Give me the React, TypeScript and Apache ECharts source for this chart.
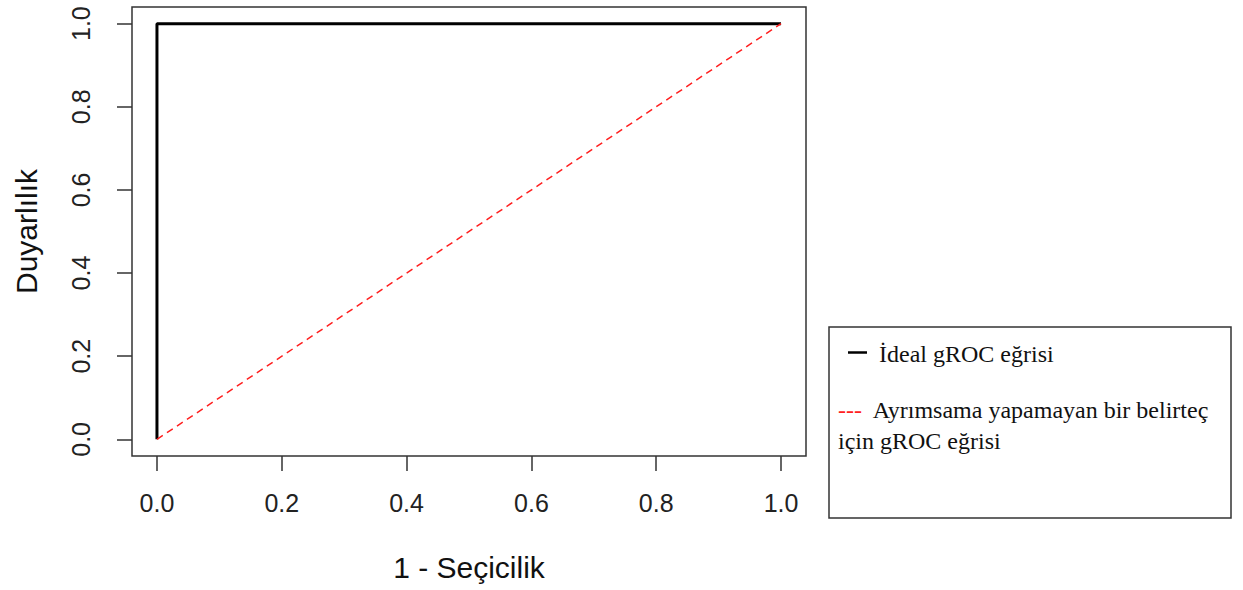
import React, { useEffect, useRef } from "react";
import * as echarts from "echarts";

const tickValues = [0, 0.2, 0.4, 0.6, 0.8, 1.0];
const idealCurve: [number, number][] = [
  [0, 0],
  [0, 1],
  [1, 1],
];
const chanceCurve: [number, number][] = [
  [0, 0],
  [1, 1],
];
const xTitle = "1 - Seçicilik";
const yTitle = "Duyarlılık";
const legendIdeal = "İdeal gROC eğrisi";
const legendChance1 = "Ayrımsama yapamayan bir belirteç";
const legendChance2 = "için gROC eğrisi";

const SANS = "'Liberation Sans', Arial, sans-serif";
const SERIF = "'Liberation Serif', 'Times New Roman', serif";

export default function App() {
  const ref = useRef<HTMLDivElement>(null);
  useEffect(() => {
    if (!ref.current) return;
    const chart = echarts.init(ref.current, undefined, { renderer: "svg" });
    const axisCommon = {
      type: "value" as const,
      min: -0.04,
      max: 1.04,
      axisLine: { show: false, onZero: false },
      splitLine: { show: false },
      axisTick: {
        show: true,
        inside: false,
        customValues: tickValues,
        length: 15,
        lineStyle: { color: "#333", width: 1.5 },
      },
      nameLocation: "middle" as const,
      nameTextStyle: { fontFamily: SANS, fontSize: 30, color: "#111" },
    };
    chart.setOption({
      animation: false,
      backgroundColor: "#fff",
      grid: {
        left: 132,
        top: 7,
        width: 674,
        height: 449,
        show: true,
        borderColor: "#333",
        borderWidth: 1.5,
        backgroundColor: "transparent",
      },
      xAxis: {
        ...axisCommon,
        name: xTitle,
        nameGap: 96,
        axisLabel: {
          customValues: tickValues,
          formatter: (v: number) => v.toFixed(1),
          fontFamily: SANS,
          fontSize: 25,
          color: "#222",
          margin: 34,
        },
      },
      yAxis: {
        ...axisCommon,
        name: yTitle,
        nameGap: 91,
        axisLabel: {
          customValues: tickValues,
          formatter: (v: number) => v.toFixed(1),
          fontFamily: SANS,
          fontSize: 25,
          color: "#222",
          margin: 39,
          rotate: 90,
        },
      },
      series: [
        {
          type: "line",
          name: legendIdeal,
          data: idealCurve,
          symbol: "none",
          lineStyle: { color: "#000", width: 3 },
          z: 2,
        },
        {
          type: "line",
          name: legendChance1,
          data: chanceCurve,
          symbol: "none",
          lineStyle: { color: "#ff2020", width: 1.5, type: [7, 5] },
          z: 3,
        },
      ],
      graphic: [
        {
          type: "rect",
          shape: { x: 829, y: 327, width: 402, height: 191 },
          style: { fill: "#fff", stroke: "#333", lineWidth: 1.5 },
        },
        {
          type: "line",
          shape: { x1: 848, y1: 352.5, x2: 867, y2: 352.5 },
          style: { stroke: "#000", lineWidth: 2.5 },
        },
        {
          type: "text",
          x: 879,
          y: 354,
          style: {
            text: legendIdeal,
            fontFamily: SERIF,
            fontSize: 24,
            fill: "#111",
            verticalAlign: "middle",
          },
        },
        {
          type: "text",
          x: 838,
          y: 394,
          style: {
            text: "{r|---}  " + legendChance1 + "\n" + legendChance2,
            fontFamily: SERIF,
            fontSize: 24,
            lineHeight: 31,
            fill: "#111",
            verticalAlign: "top",
            rich: {
              r: { fill: "#ff2020", fontFamily: SERIF, fontSize: 24, lineHeight: 31 },
            },
          },
        },
      ],
    });
    return () => chart.dispose();
  }, []);
  return (
    <div
      ref={ref}
      style={{ position: "fixed", left: 0, top: 0, width: 1243, height: 590, background: "#fff" }}
    />
  );
}
